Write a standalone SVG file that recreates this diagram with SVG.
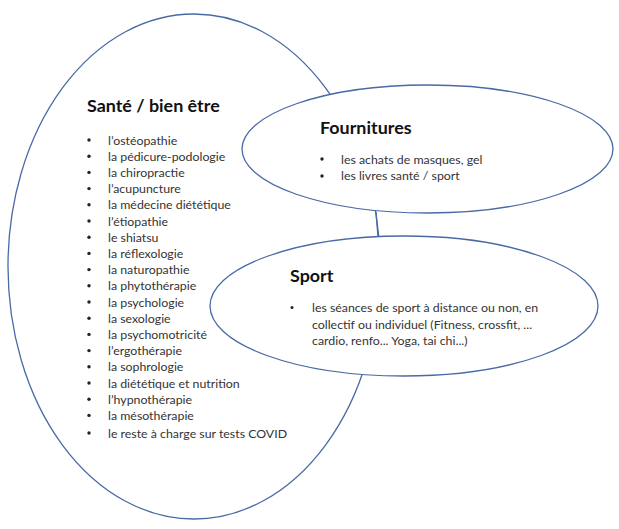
<svg xmlns="http://www.w3.org/2000/svg" width="619" height="529" viewBox="0 0 619 529">
<style>
.sh{fill:#fff;stroke:#4a6aa5;stroke-width:1.3}
.ln{fill:none;stroke:#4a6aa5;stroke-width:1.3}
.t{font-family:Lato,"Liberation Sans",sans-serif;font-weight:bold;font-size:17.9px;fill:#111}
.i{font-family:Lato,"Liberation Sans",sans-serif;font-size:12.35px;fill:#333}
.b{fill:#222}
</style>
<rect width="619" height="529" fill="#fff"/>
<g id="sante">
<ellipse class="sh" cx="194" cy="266.5" rx="186" ry="252.5"/>
<text class="t" x="87" y="112">Santé / bien être</text>
<g class="b">
<circle cx="89" cy="140" r="1.7"/><circle cx="89" cy="156.2" r="1.7"/><circle cx="89" cy="172.4" r="1.7"/><circle cx="89" cy="188.6" r="1.7"/><circle cx="89" cy="204.8" r="1.7"/><circle cx="89" cy="221" r="1.7"/><circle cx="89" cy="237.2" r="1.7"/><circle cx="89" cy="253.4" r="1.7"/><circle cx="89" cy="269.6" r="1.7"/><circle cx="89" cy="285.8" r="1.7"/><circle cx="89" cy="302" r="1.7"/><circle cx="89" cy="318.2" r="1.7"/><circle cx="89" cy="334.4" r="1.7"/><circle cx="89" cy="350.6" r="1.7"/><circle cx="89" cy="366.8" r="1.7"/><circle cx="89" cy="383" r="1.7"/><circle cx="89" cy="399.2" r="1.7"/><circle cx="89" cy="415.4" r="1.7"/><circle cx="89" cy="433" r="1.7"/>
</g>
<text class="i" x="108" y="144.5">l’ostéopathie</text>
<text class="i" x="108" y="160.7">la pédicure-podologie</text>
<text class="i" x="108" y="176.9">la chiropractie</text>
<text class="i" x="108" y="193.1">l’acupuncture</text>
<text class="i" x="108" y="209.3">la médecine diététique</text>
<text class="i" x="108" y="225.5">l’étiopathie</text>
<text class="i" x="108" y="241.7">le shiatsu</text>
<text class="i" x="108" y="257.9">la réflexologie</text>
<text class="i" x="108" y="274.1">la naturopathie</text>
<text class="i" x="108" y="290.3">la phytothérapie</text>
<text class="i" x="108" y="306.5">la psychologie</text>
<text class="i" x="108" y="322.7">la sexologie</text>
<text class="i" x="108" y="338.9">la psychomotricité</text>
<text class="i" x="108" y="355.1">l’ergothérapie</text>
<text class="i" x="108" y="371.3">la sophrologie</text>
<text class="i" x="108" y="387.5">la diététique et nutrition</text>
<text class="i" x="108" y="403.7">l’hypnothérapie</text>
<text class="i" x="108" y="419.9">la mésothérapie</text>
<text class="i" x="108" y="437.5">le reste à charge sur tests COVID</text>
</g>
<g id="connectors">
<line class="ln" x1="376" y1="212" x2="378" y2="237"/>
</g>
<g id="fournitures">
<ellipse class="sh" cx="427.5" cy="149" rx="185.5" ry="64"/>
<text class="t" x="320" y="134">Fournitures</text>
<circle class="b" cx="322" cy="159" r="1.7"/><circle class="b" cx="322" cy="176" r="1.7"/>
<text class="i" x="341" y="163.5">les achats de masques, gel</text>
<text class="i" x="341" y="180.2">les livres santé / sport</text>
</g>
<g id="sport">
<ellipse class="sh" cx="404" cy="306" rx="194" ry="70"/>
<text class="t" x="290" y="282">Sport</text>
<circle class="b" cx="292" cy="307.5" r="1.5"/>
<text class="i" x="312" y="312.3">les séances de sport à distance ou non, en</text>
<text class="i" x="312" y="328.5">collectif ou individuel (Fitness, crossfit, ...</text>
<text class="i" x="312" y="344.7">cardio, renfo... Yoga, tai chi...)</text>
</g>
</svg>
